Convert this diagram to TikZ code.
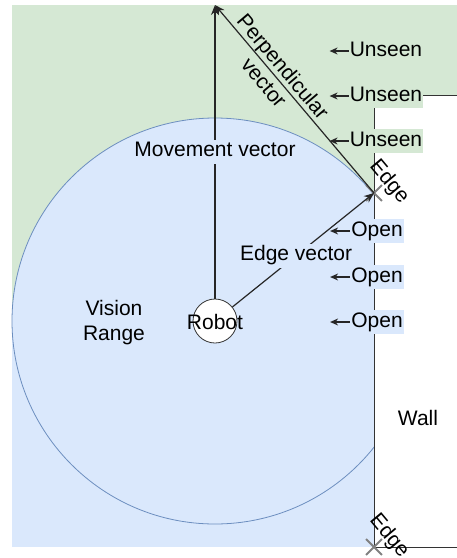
\documentclass[tikz,border=0pt]{standalone}
\usepackage{fontspec}
\setmainfont{Liberation Sans}
\usepackage{tikz}
\usetikzlibrary{arrows.meta}
\usetikzlibrary{shapes.misc}
\usetikzlibrary{positioning}

\definecolor{seengreen}{HTML}{D5E8D4}
\definecolor{rangeblue}{HTML}{DAE8FC}
\definecolor{rangeline}{HTML}{6C8EBF}

\begin{document}
\begin{tikzpicture}[x=1pt, y=-1pt, font=\fontsize{21}{25}\selectfont,
	vec/.style={draw=black!85, line width=1.2pt, -{Stealth[length=10pt,width=8pt]}},
	pointer/.style={draw=black!85, line width=1.2pt, -{Stealth[length=8pt,width=7pt]}},
	tag/.style={inner xsep=1pt, inner ysep=2pt, text height=15pt, text depth=5pt},
	edgemark/.style={cross out, draw=gray, line width=1.8pt, minimum size=14pt, inner sep=0pt}]
	\useasboundingbox (0,0) rectangle (457,558);

	% areas: unseen, vision range
	\fill[seengreen] (12,5) -- (457,5) -- (457,95) -- (374,95) -- (374,321) -- (12,321) -- cycle;
	\fill[rangeblue] (12,321) rectangle (374,547);
	\begin{scope}
		\clip (0,0) rectangle (374,558);
		\draw[rangeline, fill=rangeblue, line width=0.8pt] (215,321) circle[radius=203pt];
	\end{scope}

	% wall
	\draw[black!80, line width=1pt] (457,95) -- (374,95) -- (374,547) -- (457,547);

	\node[circle, draw=black!80, fill=white, minimum size=44pt, inner sep=0pt, line width=0.8pt] (robot) at (215,321) {};
	\node (robottext) at (215,322) {Robot};
	\node[edgemark] (edgeA) at (374,193) {};
	\node[edgemark] (edgeB) at (374,547) {};
	\node[rotate=-50] (edgeAtext) at (389,182) {Edge};
	\node[rotate=-50] (edgeBtext) at (389,536) {Edge};
	\coordinate (goal) at (215,5);

	\draw[vec] (robot) -- node[tag, fill=rangeblue] (movelabel) {Movement vector} (goal);
	\draw[vec] (edgeA.center) -- node[pos=0.63, sloped, align=center] (perplabel) {Perpendicular\\vector} (goal);
	\draw[vec] (robot) -- node[pos=0.45, tag, fill=rangeblue] (edgevlabel) {Edge vector} (edgeA.center);

	\node[tag, fill=seengreen] (unseen1) at (386,51) {Unseen};
	\node[tag, fill=seengreen] (unseen2) at (386,96) {Unseen};
	\node[tag, fill=seengreen] (unseen3) at (386,141) {Unseen};
	\node[tag, fill=rangeblue] (open1) at (377,231) {Open};
	\node[tag, fill=rangeblue] (open2) at (377,277) {Open};
	\node[tag, fill=rangeblue] (open3) at (377,322) {Open};
	\coordinate[left=19pt of unseen1.west] (unseen1tip);
	\coordinate[left=19pt of unseen2.west] (unseen2tip);
	\coordinate[left=19pt of unseen3.west] (unseen3tip);
	\coordinate[left=20pt of open1.west] (open1tip);
	\coordinate[left=20pt of open2.west] (open2tip);
	\coordinate[left=20pt of open3.west] (open3tip);
	\draw[pointer] (unseen1) -- (unseen1tip);
	\draw[pointer] (unseen2) -- (unseen2tip);
	\draw[pointer] (unseen3) -- (unseen3tip);
	\draw[pointer] (open1) -- (open1tip);
	\draw[pointer] (open2) -- (open2tip);
	\draw[pointer] (open3) -- (open3tip);

	\node[align=center] (vision) at (114,323) {Vision\\Range};
	\node (wall) at (418,418) {Wall};
\end{tikzpicture}
\end{document}
